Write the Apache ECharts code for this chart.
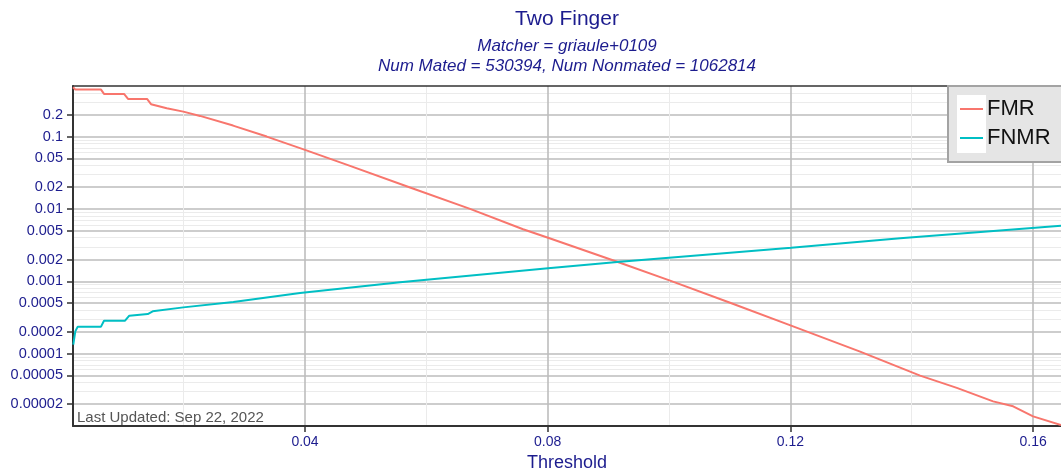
<!DOCTYPE html>
<html>
<head>
<meta charset="utf-8">
<script src="https://cdn.jsdelivr.net/npm/echarts@6/dist/echarts.min.js"></script>
<style>
  html, body { margin: 0; padding: 0; background: #fff; }
  #chart { width: 1061px; height: 472px; }
</style>
</head>
<body>
<div id="chart"></div>
<script>
// axis ranges
const xMin = 0.00176
const xMax = 0.1646
const yMin = 0.00001
const yMax = 0.5

// ticks and gridlines
const xMajorTicks = [0.04, 0.08, 0.12, 0.16]
const xMinorTicks = [0.02, 0.06, 0.10, 0.14]
const yMajorTicks = [0.2, 0.1, 0.05, 0.02, 0.01, 0.005, 0.002, 0.001, 0.0005, 0.0002, 0.0001, 0.00005, 0.00002]
const yTickLabels = ['0.2', '0.1', '0.05', '0.02', '0.01', '0.005', '0.002', '0.001', '0.0005', '0.0002', '0.0001', '0.00005', '0.00002']
const yMinorTicks = [
  0.4, 0.3,
  0.09, 0.08, 0.07, 0.06, 0.04, 0.03,
  0.009, 0.008, 0.007, 0.006, 0.004, 0.003,
  0.0009, 0.0008, 0.0007, 0.0006, 0.0004, 0.0003,
  0.00009, 0.00008, 0.00007, 0.00006, 0.00004, 0.00003
]

// FMR curve (threshold, rate)
const fmrX = [0.00176, 0.00214, 0.00638, 0.00687, 0.01017, 0.01083, 0.01396, 0.01462, 0.01721, 0.01994,
  0.0227, 0.02814, 0.03369, 0.04, 0.04742, 0.05731, 0.0672, 0.07594, 0.08006, 0.09144,
  0.10017, 0.11006, 0.12012, 0.13149, 0.14138, 0.14743, 0.15341, 0.15671, 0.16, 0.1646]
const fmrY = [0.481, 0.446, 0.446, 0.389, 0.389, 0.331, 0.331, 0.28, 0.2466, 0.2213,
  0.193, 0.1419, 0.1, 0.0655, 0.0394, 0.0198, 0.0100, 0.00524, 0.00399, 0.00186,
  0.00102, 0.000506, 0.000244, 0.0001067, 0.0000497, 0.0000336, 0.0000219, 0.0000187, 0.0000136, 0.0000103]

// FNMR curve (threshold, rate)
const fnmrX = [0.00181, 0.00214, 0.00254, 0.00638, 0.00687, 0.01034, 0.01104, 0.01408, 0.0149, 0.01994,
  0.02819, 0.03918, 0.05566, 0.08006, 0.09193, 0.12012, 0.13809, 0.1646]
const fnmrY = [0.000133, 0.000203, 0.000236, 0.000236, 0.000285, 0.000285, 0.000335, 0.000353, 0.000384, 0.000436,
  0.000518, 0.000689, 0.00097, 0.00151, 0.00186, 0.0029, 0.00393, 0.00585]

const navy = '#1c1c8e'
const font = 'Liberation Sans, Arial, sans-serif'
const majorGrid = { color: '#bdbdbd', width: 1.6 }
const minorGrid = { color: '#ebebeb', width: 1 }

function zip(xs, ys) {
  return xs.map((x, i) => [x, ys[i]])
}

function yLabel(v) {
  const i = yMajorTicks.findIndex(t => Math.abs(t - v) / t < 1e-6)
  return i >= 0 ? yTickLabels[i] : ''
}

const chart = echarts.init(document.getElementById('chart'))

const option = {
  animation: false,
  textStyle: { fontFamily: font },
  title: [
    {
      text: 'Two Finger', left: 567, top: 19, padding: 0,
      textAlign: 'center', textVerticalAlign: 'middle',
      textStyle: { color: navy, fontSize: 21, fontWeight: 'normal', fontFamily: font }
    },
    {
      text: 'Matcher = griaule+0109', left: 567, top: 46, padding: 0,
      textAlign: 'center', textVerticalAlign: 'middle',
      textStyle: { color: navy, fontSize: 17, fontStyle: 'italic', fontWeight: 'normal', fontFamily: font }
    },
    {
      text: 'Num Mated = 530394, Num Nonmated = 1062814', left: 567, top: 66, padding: 0,
      textAlign: 'center', textVerticalAlign: 'middle',
      textStyle: { color: navy, fontSize: 17, fontStyle: 'italic', fontWeight: 'normal', fontFamily: font }
    }
  ],
  grid: { left: 73, right: 0, top: 86, bottom: 46, containLabel: false, outerBoundsMode: 'none' },
  legend: {
    orient: 'vertical',
    left: 949, top: 86,
    padding: [11, 30, 10, 11],
    itemGap: 5,
    itemWidth: 23,
    itemHeight: 2,
    icon: 'rect',
    data: ['FMR', 'FNMR'],
    textStyle: { fontSize: 22, color: '#111', lineHeight: 24, fontFamily: font, padding: [0, 0, 0, -1] }
  },
  xAxis: [
    {
      type: 'value', min: xMin, max: xMax, position: 'bottom',
      name: 'Threshold', nameLocation: 'middle', nameGap: 26,
      nameTextStyle: { color: navy, fontSize: 18, fontFamily: font },
      axisLine: { show: true, onZero: false, lineStyle: { color: '#333', width: 2 } },
      axisTick: { show: true, length: 6, customValues: xMajorTicks, lineStyle: { color: '#333', width: 1.5 } },
      axisLabel: { customValues: xMajorTicks, margin: 9, color: navy, fontSize: 14, fontFamily: font,
        formatter: v => String(Math.round(v * 100) / 100) },
      splitLine: { show: true, lineStyle: majorGrid }
    },
    {
      type: 'value', min: xMin, max: xMax, position: 'bottom',
      axisLine: { show: false },
      axisTick: { show: false, customValues: xMinorTicks },
      axisLabel: { show: false },
      splitLine: { show: true, lineStyle: minorGrid }
    },
    {
      type: 'value', min: xMin, max: xMax, position: 'top',
      axisLine: { show: true, onZero: false, lineStyle: { color: '#333', width: 1.5 } },
      axisTick: { show: false },
      axisLabel: { show: false },
      splitLine: { show: false }
    }
  ],
  yAxis: [
    {
      type: 'log', logBase: 10, min: yMin, max: yMax,
      axisLine: { show: true, onZero: false, lineStyle: { color: '#333', width: 2 } },
      axisTick: { show: true, length: 6, customValues: yMajorTicks, lineStyle: { color: '#333', width: 1.5 } },
      axisLabel: { customValues: yMajorTicks, margin: 10, color: navy, fontSize: 14.5, fontFamily: font, formatter: yLabel },
      splitLine: { show: true, lineStyle: majorGrid }
    },
    {
      type: 'log', logBase: 10, min: yMin, max: yMax,
      axisLine: { show: false },
      axisTick: { show: false, customValues: yMinorTicks },
      axisLabel: { show: false },
      splitLine: { show: true, lineStyle: minorGrid }
    }
  ],
  graphic: [
    {
      type: 'rect', z: 3, silent: true,
      shape: { x: 948, y: 86, width: 130, height: 76 },
      style: { fill: '#e5e5e5', stroke: '#a3a3a3', lineWidth: 2 }
    },
    {
      type: 'rect', z: 3, z2: 5, silent: true,
      shape: { x: 957, y: 95, width: 29, height: 58 },
      style: { fill: '#ffffff' }
    },
    {
      type: 'text', z: 3, silent: true,
      x: 77, y: 418,
      style: { text: 'Last Updated: Sep 22, 2022', fill: '#555', fontSize: 15, fontFamily: font, verticalAlign: 'middle' }
    }
  ],
  series: [
    {
      name: 'FMR', type: 'line', xAxisIndex: 0, yAxisIndex: 0,
      showSymbol: false, symbol: 'none', color: '#F8766D',
      lineStyle: { color: '#F8766D', width: 2 },
      data: zip(fmrX, fmrY)
    },
    {
      name: 'FNMR', type: 'line', xAxisIndex: 0, yAxisIndex: 0,
      showSymbol: false, symbol: 'none', color: '#00BFC4',
      lineStyle: { color: '#00BFC4', width: 2 },
      data: zip(fnmrX, fnmrY)
    }
  ]
}

chart.setOption(option)
</script>
</body>
</html>
